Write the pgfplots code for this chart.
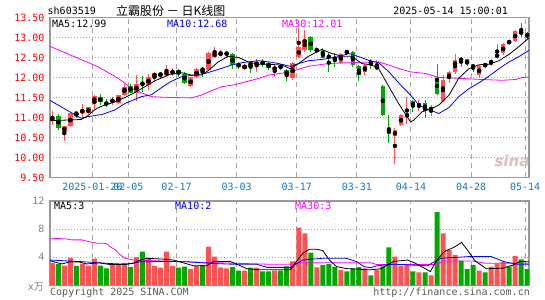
\documentclass[border=0pt]{standalone}
\usepackage{fontspec}
\setmainfont{DejaVu Sans Mono}
\newfontfamily\cjk{Noto Sans CJK SC}
\newfontfamily\logofont{DejaVu Sans}
\usepackage{pgfplots}
\pgfplotsset{compat=1.18}
\usepackage{pgfplotstable}

\definecolor{kred}{RGB}{255,82,82}
\definecolor{kgreen}{RGB}{0,168,0}
\definecolor{datblue}{RGB}{20,120,200}
\definecolor{ma30}{RGB}{255,0,255}
\definecolor{framec}{RGB}{153,153,153}
\definecolor{gridc}{RGB}{165,165,165}
\definecolor{footc}{RGB}{90,90,90}

% daily candles: index, open, high, low, close
\pgfplotstableread{
i o h l c
0 10.93 11.17 10.81 11.00
2 10.64 10.80 10.42 10.78
3 10.78 11.10 10.76 11.10
5 11.12 11.33 11.00 11.18
6 11.10 11.27 11.08 11.25
7 11.37 11.56 11.22 11.53
10 11.41 11.52 11.31 11.43
11 11.37 11.56 11.33 11.56
12 11.56 11.85 11.53 11.77
14 11.62 12.06 11.42 11.83
16 11.81 12.10 11.70 12.02
17 12.02 12.14 11.89 12.10
18 12.07 12.14 11.98 12.09
19 12.06 12.31 12.02 12.14
20 12.12 12.24 12.04 12.14
23 11.78 12.02 11.77 12.00
24 12.00 12.24 11.98 12.22
26 12.18 12.64 12.18 12.60
27 12.52 12.77 12.50 12.62
28 12.55 12.68 12.53 12.62
29 12.59 12.67 12.52 12.61
32 12.22 12.35 12.18 12.31
34 12.31 12.47 12.14 12.39
37 12.18 12.31 12.02 12.27
40 11.98 12.39 11.94 12.37
41 12.50 13.25 12.48 12.75
42 12.68 13.18 12.64 12.95
44 12.67 12.77 12.60 12.69
48 12.37 12.62 12.35 12.58
52 12.14 12.35 12.06 12.31
54 12.22 12.43 12.18 12.28
57 10.53 10.75 9.83 10.68
58 10.81 11.08 10.78 11.06
59 11.00 11.52 10.83 11.10
61 11.27 11.43 11.15 11.35
63 11.18 11.31 11.03 11.25
65 11.42 12.06 11.40 11.95
66 11.95 12.16 11.87 12.14
67 12.14 12.60 12.10 12.43
71 12.06 12.31 12.02 12.28
73 12.31 12.47 12.29 12.45
74 12.50 12.83 12.47 12.60
75 12.60 12.87 12.56 12.83
77 12.92 13.18 12.89 13.16
}\candup

\pgfplotstableread{
i o h l c
1 11.03 11.08 10.70 10.73
4 11.11 11.17 10.98 11.09
8 11.52 11.58 11.31 11.38
9 11.36 11.45 11.25 11.34
13 11.79 11.83 11.60 11.62
15 11.86 12.03 11.64 11.84
21 12.20 12.22 12.02 12.08
22 12.10 12.14 11.83 11.87
25 12.21 12.27 12.02 12.19
30 12.58 12.62 12.22 12.31
31 12.32 12.39 12.22 12.30
33 12.37 12.42 12.12 12.27
35 12.38 12.45 12.27 12.36
36 12.37 12.39 12.20 12.25
38 12.28 12.35 12.18 12.26
39 12.18 12.22 11.90 12.06
43 13.02 13.04 12.64 12.68
45 12.64 12.75 12.48 12.50
46 12.53 12.60 12.14 12.51
47 12.52 12.60 12.27 12.43
49 12.65 12.70 12.56 12.63
50 12.64 12.66 12.27 12.31
51 12.28 12.31 11.92 12.06
53 12.38 12.47 12.22 12.36
55 11.78 11.81 11.03 11.06
56 10.65 11.06 10.35 10.63
60 11.42 11.44 11.15 11.25
62 11.37 11.43 11.00 11.17
64 11.98 12.33 11.56 11.60
68 12.50 12.52 12.27 12.39
69 12.45 12.47 12.28 12.33
70 12.29 12.35 12.14 12.27
72 12.32 12.37 12.25 12.30
76 12.90 12.93 12.83 12.88
78 13.16 13.37 13.00 13.08
79 13.07 13.13 12.97 13.05
}\canddown

% volume (x 10^4)
\pgfplotstableread{
i v
0 3.2
2 2.8
3 3.9
5 3.1
6 2.8
7 3.8
10 2.9
11 2.9
12 3.2
14 4.0
16 3.9
17 2.75
18 2.5
19 4.8
20 2.75
23 2.35
24 2.75
26 5.5
27 4.1
28 2.55
29 2.4
32 2.1
34 2.5
37 2.1
40 3.4
41 8.2
42 7.4
44 2.55
48 2.15
52 2.4
54 2.15
57 4.1
58 2.75
59 2.9
61 1.85
63 1.4
65 7.4
66 5.05
67 4.3
71 2.1
73 2.65
74 3.1
75 3.35
77 4.15
}\volup

\pgfplotstableread{
i v
1 3.0
4 2.75
8 2.8
9 2.4
13 2.6
15 4.8
21 2.5
22 2.65
25 2.9
30 2.6
31 2.1
33 2.5
35 2.0
36 2.0
38 2.1
39 2.7
43 4.65
45 2.9
46 3.0
47 2.6
49 2.0
50 2.4
51 2.6
53 1.4
55 2.7
56 5.4
60 2.0
62 1.85
64 10.4
68 3.5
69 2.3
70 2.9
72 1.85
76 2.65
78 3.7
79 2.3
}\voldown

\pgfplotsset{
  kbase/.style={
    scale only axis, width=479bp,
    xmin=-0.38, xmax=79.3,
    axis line style={framec, line width=1.2bp},
    tick style={draw=none},
    xtick={6.67,12.67,20.67,30.67,40.67,50.67,59.67,69.67,78.67},
    xmajorgrids, ymajorgrids,
    x grid style={gridc, line width=1bp, dash pattern=on 5bp off 4bp},
    y grid style={gridc, line width=0.9bp, dash pattern=on 1bp off 2bp},
    ticklabel style={font=\fontsize{10bp}{12bp}\selectfont},
    yticklabel style={xshift=-2bp},
  },
  wick/.style={only marks, mark=none, forget plot,
    error bars/.cd, y dir=both, y explicit, error mark=none,
    error bar style={line width=1bp, #1}},
  body/.style={only marks, mark=none, forget plot,
    error bars/.cd, y dir=both, y explicit, error mark=none,
    error bar style={line width=4.6bp, #1}},
}

\begin{document}
\begin{tikzpicture}
\begin{axis}[kbase, at={(50bp,-17.5bp)}, anchor=north west, height=160bp,
  ymin=9.5, ymax=13.5,
  ytick={9.5,10,10.5,11,11.5,12,12.5,13,13.5},
  yticklabels={9.50,10.00,10.50,11.00,11.50,12.00,12.50,13.00,13.50},
  yticklabel style={text=red},
  xticklabels={2025-01-20,02-05,02-17,03-03,03-17,03-31,04-14,04-28,05-14},
  xticklabel style={text=datblue, yshift=-2bp},
]
\addplot[wick=kred] table[x=i, y expr={(\thisrow{h}+\thisrow{l})/2}, y error expr={(\thisrow{h}-\thisrow{l})/2}] {\candup};
\addplot[body=kred] table[x=i, y expr={(\thisrow{o}+\thisrow{c})/2}, y error expr={abs(\thisrow{c}-\thisrow{o})/2}] {\candup};
\addplot[wick=kgreen] table[x=i, y expr={(\thisrow{h}+\thisrow{l})/2}, y error expr={(\thisrow{h}-\thisrow{l})/2}] {\canddown};
\addplot[body=kgreen] table[x=i, y expr={(\thisrow{o}+\thisrow{c})/2}, y error expr={abs(\thisrow{c}-\thisrow{o})/2}] {\canddown};
% MA30
\addplot[ma30, line width=0.8bp] coordinates {
(-0.4,12.78) (4.3,12.48) (7.6,12.27) (10.95,11.98) (13.2,11.73) (14.8,11.62) (16.5,11.52) (19.6,11.50)
(23.2,11.49) (24.8,11.56) (26.5,11.67) (28.2,11.77) (30.4,11.82) (32.1,11.89) (33.7,11.95) (36,12.06) (39.6,12.14)
(42.6,12.28) (45.95,12.35) (49.3,12.37) (54.3,12.39) (56,12.31) (58.2,12.20) (59.6,12.14)
(62.1,12.10) (64.3,12.00) (67.6,11.98) (71.5,11.95) (74.8,11.93) (77.1,11.95) (78.2,12.00) (79.3,12.01)};
% MA10
\addplot[blue, line width=0.8bp] coordinates {
(-0.4,11.43) (4.8,10.98) (5.9,11.02) (8.4,11.08) (10.4,11.19) (12.1,11.35) (14.8,11.52) (16.5,11.57) (18.2,11.75) (19.6,11.89)
(21.5,12.02) (23.7,12.06) (25.4,12.10) (27.6,12.20) (29.8,12.31) (31.5,12.37) (34.3,12.42) (36,12.39) (37.6,12.35) (39.6,12.28)
(41,12.35) (42.6,12.42) (44.8,12.45) (47.6,12.52) (49.3,12.60) (51,12.52) (52.6,12.43) (54.3,12.37) (56,12.14) (58.2,11.77) (59.6,11.56)
(61,11.31) (62.6,11.20) (64.3,11.10) (66,11.25) (67.6,11.52) (69.3,11.72) (71,11.87) (72.6,12.03) (74.3,12.22) (76,12.39) (77.6,12.52) (79.3,12.68)};
% MA5
\addplot[black, line width=0.8bp] coordinates {
(-0.4,10.92) (4.8,10.95) (5.8,11.03) (7.1,11.20) (8.2,11.28) (10.4,11.39) (12.1,11.50) (13.7,11.62) (15.4,11.77) (17.1,11.92) (19.6,12.08)
(21.5,12.12) (23.2,12.06) (24.8,12.06) (26,12.18) (27.6,12.39) (29.3,12.53) (31,12.50) (32.6,12.39) (34.3,12.33) (36,12.33) (38.2,12.31) (39.6,12.22)
(41,12.35) (42.6,12.53) (44.8,12.70) (46.5,12.60) (48.2,12.53) (49.8,12.53) (51.5,12.35) (53.2,12.31) (54.3,12.22) (56,11.77) (57.6,11.35) (59.6,10.89)
(60.1,10.93) (61.5,11.14) (63.2,11.23) (64.3,11.31) (66,11.56) (67.6,11.98) (69.3,12.22) (71,12.32) (72.6,12.33) (74.3,12.42) (76,12.58) (77.6,12.77) (79.3,12.99)};
\end{axis}

\begin{axis}[kbase, at={(50bp,-201bp)}, anchor=north west, height=84.3bp,
  ymin=0, ymax=12, ytick={4,8,12}, yticklabels={4,8,12},
  yticklabel style={text=gray}, xticklabels={},
]
\addplot[ybar, bar width=5bp, bar shift=0pt, fill=kred, draw=none, forget plot] table[x=i, y=v] {\volup};
\addplot[ybar, bar width=5bp, bar shift=0pt, fill=kgreen, draw=none, forget plot] table[x=i, y=v] {\voldown};
\addplot[ma30, line width=0.8bp] coordinates {
(-0.4,6.71) (2.4,6.60) (3.2,6.47) (4.9,6.47) (6,6.23) (7.4,6.00) (8.5,6.00) (9.1,5.90) (9.6,5.52) (10.5,5.04) (11.3,4.33) (12.1,3.86) (13.5,3.60)
(24,3.30) (36,3.00) (40,3.00) (41,3.20) (53,3.20) (54,2.95) (64,2.95) (65,3.45) (70,3.45) (72,3.15) (79.3,3.15)};
\addplot[blue, line width=0.8bp] coordinates {
(-0.4,3.60) (5.2,3.35) (9.6,3.10) (12.4,3.00) (14.6,3.35) (19,3.40) (22.4,3.35) (25,3.20) (27,3.10) (30,3.00) (34,3.00) (35.7,2.55) (39.6,2.55)
(41.7,3.60) (45,3.85) (48.9,3.85) (50.7,3.35) (51.8,2.67) (53,2.50) (54,2.78) (56.8,3.00) (62.4,2.78) (64.6,3.85) (69.6,4.10) (73,4.10) (75.2,3.35) (77.4,3.00) (79.3,3.00)};
\addplot[black, line width=0.8bp] coordinates {
(-0.4,3.50) (1.6,3.04) (3,3.35) (4.6,3.30) (5.7,3.04) (7.8,3.20) (9.6,2.95) (11.8,2.95) (13.5,3.14) (14.3,3.50) (15.7,3.85) (19,3.70) (20.1,3.60) (21.8,3.20) (23.5,2.78)
(25.7,2.78) (26.8,3.40) (29.6,3.40) (31.3,2.78) (32.4,2.35) (34.6,2.20) (39.6,2.20) (40.6,3.40) (41.7,4.57) (42.8,5.14) (43.9,5.14) (45,4.95) (46.1,3.60) (47.3,2.67) (48.9,2.38)
(52.9,2.20) (54.6,2.35) (56.8,3.40) (59.1,3.60) (60.4,3.14) (62.9,1.95) (63.8,3.40) (65.2,4.80) (66.8,5.40) (68.1,6.10) (68.9,5.20) (70.3,3.50) (72.2,2.35) (75,2.45) (76.7,2.90) (77.8,3.40) (79.3,3.35)};
\end{axis}

\begin{scope}[every node/.style={inner sep=0pt, font=\fontsize{10bp}{12bp}\selectfont}]
\node[anchor=west] at (47.5bp,-11bp) {sh603519};
\node[anchor=west] at (116bp,-11bp) {\cjk\fontsize{12bp}{14bp}\selectfont 立霸股份 － 日K线图};
\node[anchor=east] at (508bp,-11bp) {2025-05-14 15:00:01};
\node[anchor=west] at (52bp,-23.7bp) {MA5:12.99};
\node[anchor=west, text=blue] at (167bp,-23.7bp) {MA10:12.68};
\node[anchor=west, text=ma30] at (282bp,-23.7bp) {MA30:12.01};
\node[anchor=west] at (54bp,-206bp) {MA5:3};
\node[anchor=west, text=blue] at (175bp,-206bp) {MA10:2};
\node[anchor=west, text=ma30] at (295bp,-206bp) {MA30:3};
\node[anchor=east, text=gray] at (44bp,-287bp) {x\cjk 万};
\node[anchor=west, text=footc] at (50bp,-292.5bp) {Copyright 2025 SINA.COM};
\node[anchor=east, text=footc] at (530bp,-292.5bp) {http://finance.sina.com.cn};
\node[text={rgb,255:red,220;green,190;blue,190}] at (512bp,-161bp) {\logofont\bfseries\itshape\fontsize{15bp}{16bp}\selectfont sina};
\end{scope}
\pgfresetboundingbox
\path[use as bounding box] (0,0) rectangle (545bp,-300bp);
\end{tikzpicture}
\end{document}
